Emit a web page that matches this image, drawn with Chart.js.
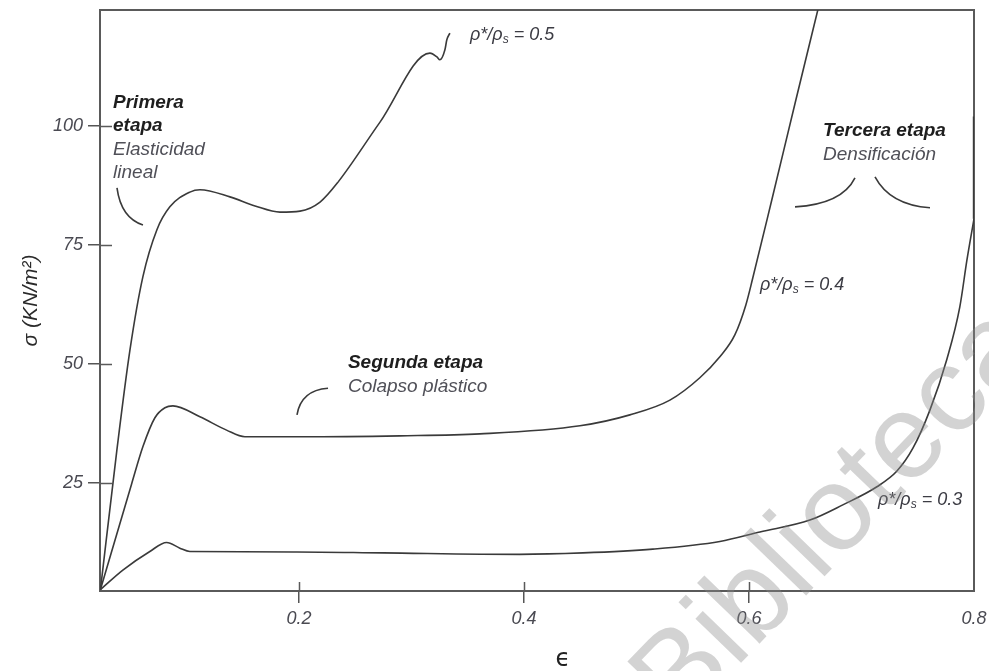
<!DOCTYPE html>
<html>
<head>
<meta charset="utf-8">
<script src="https://cdn.jsdelivr.net/npm/chart.js@4.4.0/dist/chart.umd.min.js"></script>
<style>
  html, body { margin: 0; padding: 0; background: #fff; }
</style>
</head>
<body>
<canvas id="curvas" width="989" height="671"></canvas>
<script>
// deformacion (epsilon) y tension sigma (KN/m2)
var eps05 = [0.0235, 0.0381, 0.0497, 0.0612, 0.0737, 0.0852, 0.103, 0.1119, 0.1386, 0.1609, 0.1831, 0.2009, 0.2187, 0.2347, 0.2720, 0.3164, 0.3226, 0.3252, 0.3297, 0.3314, 0.3341];
var sig05 = [2.6, 31.9, 52.9, 68.3, 78.2, 83.0, 86.1, 86.6, 85.1, 83.2, 81.9, 82.1, 84.0, 88.2, 100.8, 115.3, 114.5, 113.9, 116.0, 118.1, 119.5];

var eps04 = [0.0235, 0.0512, 0.0612, 0.0719, 0.0808, 0.0879, 0.1119, 0.1356, 0.1519, 0.2008, 0.2897, 0.3608, 0.4497, 0.4941, 0.5297, 0.5563, 0.5741, 0.5874, 0.5972, 0.6034, 0.6203, 0.6417, 0.6612];
var sig04 = [2.6, 24.8, 32.6, 38.7, 40.8, 41.2, 38.9, 36.1, 34.7, 34.7, 34.9, 35.3, 37.0, 39.3, 42.4, 47.1, 51.5, 56.1, 62.4, 68.1, 84.5, 105.5, 124.4];

// la ultima pareja es el tramo vertical sobre el borde derecho
var eps03 = [0.0235, 0.0434, 0.0674, 0.0823, 0.0941, 0.103, 0.1981, 0.2746, 0.3963, 0.4523, 0.5146, 0.5741, 0.6097, 0.6541, 0.6834, 0.7137, 0.7315, 0.7457, 0.7608, 0.7759, 0.7874, 0.7937, 0.8, 0.8];
var sig03 = [2.6, 6.7, 10.6, 12.5, 11.3, 10.6, 10.5, 10.3, 10.0, 10.3, 11.1, 12.7, 14.7, 17.2, 20.4, 24.2, 27.5, 32.3, 40.3, 51.0, 62.0, 71.8, 80.5, 102];

var ticksX = [0.2, 0.4, 0.6, 0.8];
var ticksY = [25, 50, 75, 100];

var seriesLabels = ['0.5', '0.4', '0.3'];

// textos de la figura: [texto, eps, sigma, estilo]
var notas = [
  ['Primera', 0.0347, 103.8, 'b'],
  ['etapa', 0.0347, 98.9, 'b'],
  ['Elasticidad', 0.0347, 93.9, 'r'],
  ['lineal', 0.0347, 89.1, 'r'],
  ['Segunda etapa', 0.2435, 49.1, 'b'],
  ['Colapso plástico', 0.2435, 44.1, 'r'],
  ['Tercera etapa', 0.6658, 97.9, 'b'],
  ['Densificación', 0.6658, 92.8, 'r']
];
var rhoPos = [[0.352, 118.1], [0.6098, 65.5], [0.7147, 20.4]];

// llaves: inicio, control, fin
var llaves = [
  [[0.0382, 87.0], [0.0418, 80.7], [0.0613, 79.2]],
  [[0.1982, 39.3], [0.2018, 44.5], [0.2258, 44.9]],
  [[0.6409, 83.0], [0.6827, 83.6], [0.6942, 89.1]],
  [[0.712, 89.3], [0.7253, 83.4], [0.7609, 82.8]]
];

function puntos(xs, ys) {
  return xs.map(function (x, i) { return { x: x, y: ys[i] }; });
}

var FONT = '"Liberation Sans", Arial, sans-serif';
var tickColor = '#4a4a52';
var lineColor = '#3a3a3a';

var decorado = {
  id: 'decorado',
  beforeDraw: function (chart) {
    var ctx = chart.ctx;
    ctx.save();
    ctx.fillStyle = '#fff';
    ctx.fillRect(0, 0, chart.width, chart.height);
    ctx.restore();
  },
  beforeDatasetsDraw: function (chart) {
    var ctx = chart.ctx, a = chart.chartArea;
    var sx = chart.scales.x, sy = chart.scales.y;
    ctx.save();
    ctx.strokeStyle = '#5a5a5a';
    ctx.lineWidth = 2;
    ctx.strokeRect(a.left, a.top, a.right - a.left, a.bottom - a.top);
    // parte interior de las marcas
    ctx.lineWidth = 1.5;
    ctx.beginPath();
    ticksY.forEach(function (v) {
      var y = Math.round(sy.getPixelForValue(v)) + 0.5;
      ctx.moveTo(a.left, y); ctx.lineTo(a.left + 12, y);
    });
    ticksX.slice(0, 3).forEach(function (v) {
      var x = Math.round(sx.getPixelForValue(v)) + 0.5;
      ctx.moveTo(x, a.bottom); ctx.lineTo(x, a.bottom - 9);
    });
    ctx.stroke();
    ctx.restore();
  },
  afterDatasetsDraw: function (chart) {
    var ctx = chart.ctx;
    var sx = chart.scales.x, sy = chart.scales.y;
    ctx.save();
    ctx.textBaseline = 'alphabetic';
    ctx.textAlign = 'left';
    notas.forEach(function (n) {
      if (n[3] === 'b') {
        ctx.font = 'italic bold 19px ' + FONT;
        ctx.fillStyle = '#1e1e1e';
      } else {
        ctx.font = 'italic 19px ' + FONT;
        ctx.fillStyle = '#505058';
      }
      ctx.fillText(n[0], sx.getPixelForValue(n[1]), sy.getPixelForValue(n[2]));
    });
    // etiquetas rho*/rho_s
    ctx.fillStyle = '#3c3c44';
    rhoPos.forEach(function (p, i) {
      var x = sx.getPixelForValue(p[0]), y = sy.getPixelForValue(p[1]);
      ctx.font = 'italic 18px ' + FONT;
      ctx.fillText('ρ*/ρ', x, y);
      x += ctx.measureText('ρ*/ρ').width;
      ctx.font = 'italic 12px ' + FONT;
      ctx.fillText('s', x, y + 3);
      x += ctx.measureText('s').width;
      ctx.font = 'italic 18px ' + FONT;
      ctx.fillText(' = ' + seriesLabels[i], x, y);
    });
    // llaves
    ctx.strokeStyle = lineColor;
    ctx.lineWidth = 1.6;
    llaves.forEach(function (l) {
      ctx.beginPath();
      ctx.moveTo(sx.getPixelForValue(l[0][0]), sy.getPixelForValue(l[0][1]));
      ctx.quadraticCurveTo(sx.getPixelForValue(l[1][0]), sy.getPixelForValue(l[1][1]),
        sx.getPixelForValue(l[2][0]), sy.getPixelForValue(l[2][1]));
      ctx.stroke();
    });
    // titulo eje x
    ctx.font = '24px "DejaVu Sans", sans-serif';
    ctx.fillStyle = '#222';
    ctx.textAlign = 'center';
    ctx.textBaseline = 'middle';
    ctx.fillText('ϵ', 563, 660);
    ctx.restore();
  },
  afterDraw: function (chart) {
    // marca de agua del documento original
    var ctx = chart.ctx;
    ctx.save();
    ctx.translate(680, 726);
    ctx.rotate(-46 * Math.PI / 180);
    ctx.font = '120px ' + FONT;
    ctx.fillStyle = 'rgba(140,140,140,0.38)';
    ctx.textBaseline = 'alphabetic';
    ctx.fillText('Biblioteca', 0, 0);
    ctx.restore();
  }
};

var n3 = eps03.length;

new Chart(document.getElementById('curvas'), {
  type: 'line',
  data: {
    datasets: [
      { label: 'ρ*/ρs = 0.5', data: puntos(eps05, sig05) },
      { label: 'ρ*/ρs = 0.4', data: puntos(eps04, sig04) },
      { label: 'ρ*/ρs = 0.3', data: puntos(eps03.slice(0, n3 - 1), sig03.slice(0, n3 - 1)) },
      { label: 'ρ*/ρs = 0.3 (borde)', data: puntos(eps03.slice(n3 - 2), sig03.slice(n3 - 2)), borderWidth: 2.4 }
    ]
  },
  options: {
    responsive: false,
    animation: false,
    layout: { padding: { top: 10, right: 15, left: 0, bottom: 0 } },
    plugins: { legend: { display: false }, tooltip: { enabled: false } },
    elements: {
      point: { radius: 0 },
      line: { borderColor: lineColor, borderWidth: 1.6, cubicInterpolationMode: 'monotone', fill: false }
    },
    scales: {
      x: {
        type: 'linear',
        min: 0.0231,
        max: 0.8,
        afterBuildTicks: function (s) { s.ticks = ticksX.map(function (v) { return { value: v }; }); },
        afterFit: function (s) { s.height = 80; s.paddingLeft = 0; s.paddingRight = 0; },
        border: { display: false },
        grid: {
          drawOnChartArea: false,
          tickLength: 12,
          lineWidth: 1.5,
          color: function (c) { return c.tick && c.tick.value === 0.8 ? 'rgba(0,0,0,0)' : '#555'; }
        },
        ticks: {
          padding: 5,
          color: tickColor,
          font: { family: FONT, size: 18, style: 'italic' },
          maxRotation: 0,
          autoSkip: false,
          callback: function (v) { return v.toFixed(1); }
        }
      },
      y: {
        type: 'linear',
        min: 2.3,
        max: 124.36,
        afterBuildTicks: function (s) { s.ticks = ticksY.map(function (v) { return { value: v }; }); },
        afterFit: function (s) { s.width = 100; s.paddingTop = 0; s.paddingBottom = 0; },
        border: { display: false },
        grid: { drawOnChartArea: false, tickLength: 12, lineWidth: 1.5, color: '#555' },
        ticks: {
          padding: 5,
          color: tickColor,
          font: { family: FONT, size: 18, style: 'italic' },
          autoSkip: false
        },
        title: {
          display: true,
          text: 'σ (KN/m²)',
          color: '#2a2a2a',
          font: { family: FONT, size: 21, style: 'italic' },
          padding: { top: 19, bottom: 0 }
        }
      }
    }
  },
  plugins: [decorado]
});
</script>
</body>
</html>
